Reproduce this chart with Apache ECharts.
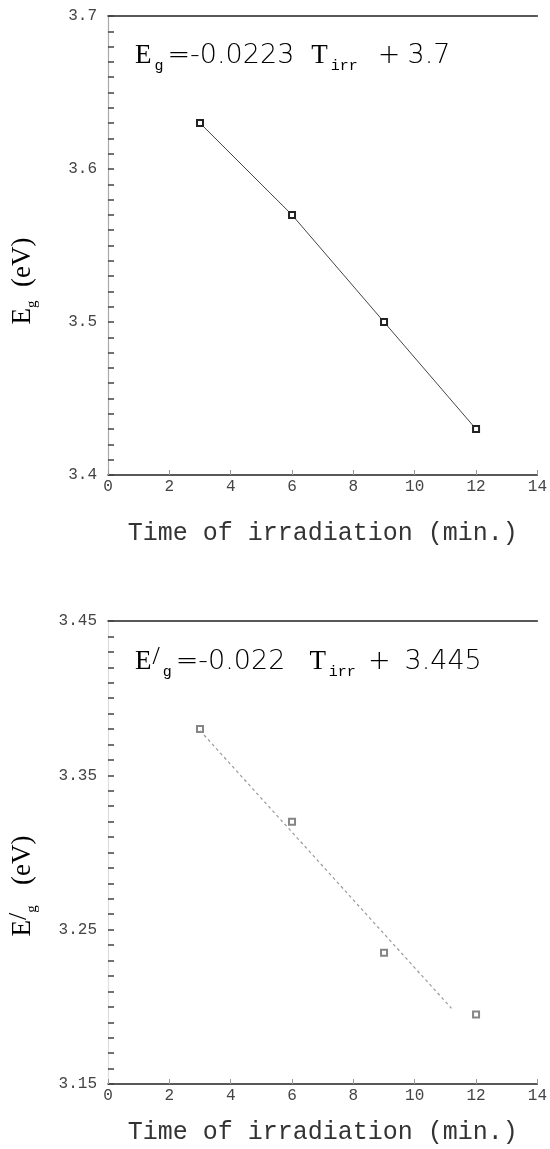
<!DOCTYPE html>
<html>
<head>
<meta charset="utf-8">
<script src="https://cdn.jsdelivr.net/npm/echarts@6/dist/echarts.min.js"></script>
<style>
  html, body { margin: 0; padding: 0; background: #fff; }
  #main { width: 550px; height: 1149px; }
</style>
</head>
<body>
<div id="main"></div>
<script>
// Irradiation times (min) and measured optical band gaps (eV)
const irradiationTime = [3, 6, 9, 12];
const bandGap = [3.63, 3.57, 3.50, 3.43];
const bandGapPrime = [3.38, 3.32, 3.235, 3.195];

// End points of the least-squares line drawn on the lower panel
const fitTimePrime = [3, 11.2];
const fitBandGapPrime = [3.379, 3.199];

// Lower panel tick labels (shown every other 0.05 step)
const yLabelsBottom = ['3.15', '3.25', '3.35', '3.45'];

const monoFont = 'Liberation Mono';
const serifFont = 'Liberation Serif';
const sansFont = 'DejaVu Sans';
const ink = '#333';

const toPairs = (xs, ys) => xs.map((x, i) => [x, ys[i]]);

const chart = echarts.init(document.getElementById('main'), null, { renderer: 'canvas' });

function timeAxis(gridIndex, nameGap) {
  return {
    type: 'value', gridIndex, min: 0, max: 14, interval: 2, position: 'bottom',
    axisLine: { show: true, lineStyle: { color: '#222', width: 1.5 } },
    axisTick: { show: true, inside: true, length: 5, lineStyle: { color: '#999' } },
    axisLabel: { fontFamily: monoFont, fontSize: 16, color: '#444', margin: 4 },
    splitLine: { show: false },
    name: 'Time of irradiation (min.)', nameLocation: 'middle', nameGap,
    nameTextStyle: { fontFamily: monoFont, fontSize: 25, color: ink }
  };
}
function topFrame(gridIndex) {
  return {
    type: 'value', gridIndex, min: 0, max: 14, position: 'top',
    axisLine: { show: true, lineStyle: { color: '#222', width: 1.5 } },
    axisTick: { show: false }, axisLabel: { show: false }, splitLine: { show: false }
  };
}
function rightFrame(gridIndex, min, max, color) {
  return {
    type: 'value', gridIndex, min, max, position: 'right',
    axisLine: { show: true, lineStyle: { color, width: 1.2 } },
    axisTick: { show: false }, axisLabel: { show: false }, splitLine: { show: false }
  };
}
const tickStyle = { color: '#444', width: 1.5 };

// Rich-text styles for the fitted equations; left padding sets the spacing
const eqBase = { color: ink, lineHeight: 36 };
const eqSans = { fontFamily: sansFont, fontWeight: 200, fontSize: 27, color: '#3a3a3a', lineHeight: 36 };
const eqRich = {
  E: Object.assign({ fontFamily: serifFont, fontSize: 27 }, eqBase),
  sub: { fontFamily: monoFont, fontSize: 15, color: ink, lineHeight: 15, verticalAlign: 'bottom', padding: [0, 0, 0, 3] },
  sup: { fontFamily: serifFont, fontSize: 26, color: ink, lineHeight: 22, verticalAlign: 'top', padding: [0, 0, 0, 1] },
  eq: Object.assign({ padding: [0, 0, 0, 4] }, eqSans),
  T: Object.assign({ fontFamily: serifFont, fontSize: 27, padding: [0, 0, 0, 17] }, eqBase),
  plus: Object.assign({ padding: [0, 0, 0, 20] }, eqSans),
  num: Object.assign({ padding: [0, 0, 0, 7] }, eqSans),
  T2: Object.assign({ fontFamily: serifFont, fontSize: 27, padding: [0, 0, 0, 24] }, eqBase),
  plus2: Object.assign({ padding: [0, 0, 0, 12] }, eqSans),
  num2: Object.assign({ padding: [0, 0, 0, 14] }, eqSans)
};
const titleRich = {
  m: { fontFamily: serifFont, fontSize: 27, color: ink, lineHeight: 34 },
  s: { fontFamily: serifFont, fontSize: 15, color: ink, lineHeight: 15, verticalAlign: 'bottom' },
  p: { fontFamily: serifFont, fontSize: 26, color: ink, lineHeight: 22, verticalAlign: 'top' }
};

const option = {
  backgroundColor: '#fff',
  animation: false,
  grid: [
    { left: 108, top: 16, width: 434, height: 459 },
    { left: 108, top: 621, width: 434, height: 463 }
  ],
  xAxis: [
    timeAxis(0, 46), topFrame(0),
    timeAxis(1, 36), topFrame(1)
  ],
  yAxis: [
    {
      type: 'value', gridIndex: 0, min: 3.4, max: 3.7, interval: 0.1,
      axisLine: { show: false },
      axisTick: { show: true, inside: true, length: 6, lineStyle: tickStyle },
      minorTick: { show: true, splitNumber: 10, length: 6, lineStyle: tickStyle },
      axisLabel: { fontFamily: monoFont, fontSize: 16, color: '#444', margin: 11,
                   formatter: v => v.toFixed(1) },
      splitLine: { show: false }
    },
    rightFrame(0, 3.4, 3.7, '#aaa'),
    {
      type: 'value', gridIndex: 1, min: 3.15, max: 3.45, interval: 0.05,
      axisLine: { show: false },
      axisTick: { show: true, inside: true, length: 6, lineStyle: tickStyle },
      minorTick: { show: true, splitNumber: 5, length: 6, lineStyle: tickStyle },
      axisLabel: { fontFamily: monoFont, fontSize: 16, color: '#444', margin: 11,
                   formatter: v => yLabelsBottom.includes(v.toFixed(2)) ? v.toFixed(2) : '' },
      splitLine: { show: false }
    },
    rightFrame(1, 3.15, 3.45, '#ddd')
  ],
  series: [
    {
      name: 'Eg', type: 'line', xAxisIndex: 0, yAxisIndex: 0,
      data: toPairs(irradiationTime, bandGap),
      symbol: 'emptyRect', symbolSize: 6,
      itemStyle: { color: '#222', borderWidth: 1.3 },
      lineStyle: { color: '#444', width: 1 }
    },
    {
      name: 'Eg fit', type: 'line', xAxisIndex: 2, yAxisIndex: 2,
      data: toPairs(fitTimePrime, fitBandGapPrime),
      symbol: 'none',
      lineStyle: { color: '#999', width: 1.2, type: [3, 3] }
    },
    {
      name: "E'g", type: 'scatter', xAxisIndex: 2, yAxisIndex: 2,
      data: toPairs(irradiationTime, bandGapPrime),
      symbol: 'emptyRect', symbolSize: 6,
      itemStyle: { color: '#666', borderWidth: 1.2 }
    }
  ],
  graphic: [
    {
      type: 'text', x: 135, y: 56,
      style: { text: '{E|E}{sub|g}{eq|=-0.0223}{T|T}{sub|irr}{plus|+}{num|3.7}', rich: eqRich,
               verticalAlign: 'middle' }
    },
    {
      type: 'text', x: 135, y: 662,
      style: { text: '{E|E}{sup|/}{sub|g}{eq|=-0.022}{T2|T}{sub|irr}{plus2|+}{num2|3.445}', rich: eqRich,
               verticalAlign: 'middle' }
    },
    {
      type: 'text', x: 23, y: 281, rotation: Math.PI / 2,
      style: { text: '{m|E}{s|g}{m|  (eV)}', rich: titleRich, align: 'center', verticalAlign: 'middle' }
    },
    {
      type: 'text', x: 23, y: 886, rotation: Math.PI / 2,
      style: { text: '{m|E}{p|/}{s|g}{m|   (eV)}', rich: titleRich, align: 'center', verticalAlign: 'middle' }
    }
  ]
};

chart.setOption(option);
</script>
</body>
</html>
